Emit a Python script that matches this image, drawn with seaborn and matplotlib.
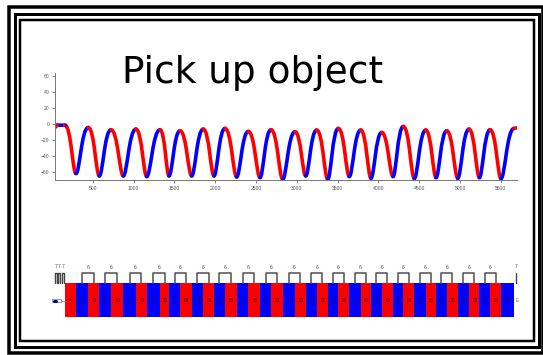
import numpy as np
import pandas as pd
import matplotlib
matplotlib.use("Agg")
import matplotlib.pyplot as plt
from matplotlib.patches import Rectangle, PathPatch
from matplotlib.path import Path
import seaborn as sns

# turning points of the joint angle trace (x in samples, y in degrees)
turn_x = [159, 294, 445, 580, 723, 874, 1029, 1161, 1324, 1434, 1569, 1712, 1854, 1985,
          2120, 2263, 2406, 2549, 2684, 2827, 2978, 3109, 3244, 3379, 3509, 3643, 3783,
          3909, 4040, 4179, 4305, 4440, 4580, 4706, 4837, 4972, 5110, 5237, 5368, 5502, 5662]
trough_y = [-62.5, -65.5, -65.5, -66.3, -65.5, -65.5, -65.5, -66.8, -67.6, -69.7,
            -65.5, -69.7, -66.3, -68.4, -66.3, -68.9, -67.6, -68.4, -67.6, -68.9]
peak_y = [-4.4, -7.3, -6.5, -7.3, -8.6, -6.5, -5.6, -9.4, -7.3, -9.8,
          -7.7, -5.6, -7.7, -10.7, -3.1, -7.7, -8.6, -6.5, -7.3, -5.6]
start_x = [40, 60, 159]
start_y = [-4.0, -1.5, -1.5]
end_x = [5662, 5698]
end_y = [-5.6, -4.8]

# segment labels for the lower strip
seg_labels = ["A"] + ["D", "B"] * 19 + ["D"]
pair_label = "6"
small_x = [[40, 58], [76, 100], [118, 145]]   # short "7" brackets at the start
small_label = "7"
last_mark_x = 5683

W, H = 543, 355
RED, BLUE = "#ff0000", "#0000ff"


def box(l, t, r, b):
    return [l / W, 1 - b / H, (r - l) / W, (b - t) / H]


sns.set_style("ticks")
plt.rcParams["font.family"] = ["Liberation Sans", "DejaVu Sans"]

fig = plt.figure(figsize=(W / 100, H / 100), dpi=100)

# triple frame around the slide
for l, t, r, b, lw in [(8.5, 6.5, 542.5, 353, 3.5), (14.5, 13.5, 538.5, 346.5, 3.0),
                       (19.5, 19.5, 533.5, 341, 2.5)]:
    fig.add_artist(Rectangle((l / W, 1 - b / H), (r - l) / W, (b - t) / H,
                             transform=fig.transFigure, fill=False, ec="black",
                             lw=lw * 0.72))

fig.text(252.5 / W, 1 - 83 / H, "Pick up object", fontsize=27, family="DejaVu Sans",
         color="black", ha="center", va="baseline")

# ---- upper trace
ax = fig.add_axes(box(55, 73, 517, 180))
turn_y = [start_y[-1]]
for i in range(len(trough_y)):
    turn_y.append(trough_y[i])
    turn_y.append(peak_y[i])

sns.lineplot(x=start_x, y=start_y, color=BLUE, lw=2.6, ax=ax)
ax.plot(start_x, start_y, color=RED, lw=2.6, dashes=(1.2, 1.2))
for i in range(len(turn_x) - 1):
    x0, x1 = turn_x[i], turn_x[i + 1]
    y0, y1 = turn_y[i], turn_y[i + 1]
    down = y1 < y0
    # rounder at the top, sharper at the bottom
    d0 = (0.55 if down else 0.3) * (x1 - x0)
    d1 = (0.3 if down else 0.55) * (x1 - x0)
    path = Path([(x0, y0), (x0 + d0, y0), (x1 - d1, y1), (x1, y1)],
                [Path.MOVETO, Path.CURVE4, Path.CURVE4, Path.CURVE4])
    ax.add_patch(PathPatch(path, fc="none", ec=RED if down else BLUE, lw=2.6,
                           capstyle="round"))
ax.plot(end_x, end_y, color=RED, lw=2.6, solid_capstyle="round")

ax.set_xlim(37, 5698)
ax.set_ylim(-70.7, 64.4)
ax.set_xticks(np.arange(500, 5501, 500))
ax.set_yticks(np.arange(-60, 61, 20))
ax.tick_params(labelsize=3.6, colors="#555555", length=2.5, width=0.5, pad=1.5)
for s in ["left", "bottom"]:
    ax.spines[s].set_color("#777777")
    ax.spines[s].set_linewidth(0.7)
sns.despine(ax=ax)
ax.set_xlabel("")
ax.set_ylabel("")

# ---- lower segment strip
ax2 = fig.add_axes(box(55, 250, 517, 330))
ax2.set_xlim(37, 5698)
ax2.set_ylim(-0.382, 1.97)
ax2.axis("off")

bars = pd.DataFrame({"left": turn_x[:-1], "width": np.diff(turn_x), "label": seg_labels})
bar_cols = [RED if i % 2 == 0 else BLUE for i in range(len(bars))]
ax2.bar(bars["left"], 1.0, width=bars["width"], align="edge", color=bar_cols,
        edgecolor="none", zorder=1)
for i, row in bars.iterrows():
    ax2.text(row["left"] + row["width"] / 2, 0.48, row["label"], fontsize=4.6,
             color="#1a1a1a", ha="center", va="center", zorder=5)

centers = bars["left"] + bars["width"] / 2
for k in range(1, len(bars) - 1, 2):
    xl, xr = centers[k], centers[k + 1]
    ax2.plot([xl, xl, xr, xr], [1.0, 1.3, 1.3, 1.0], color="#505050", lw=1.1)
    ax2.text((xl + xr) / 2, 1.47, pair_label, fontsize=3.6, color="#555555",
             ha="center", va="center")

for xl, xr in small_x:
    ax2.plot([xl, xl, xr, xr], [1.0, 1.3, 1.3, 1.0], color="#444444", lw=1.0,
             clip_on=False)
    ax2.text((xl + xr) / 2, 1.48, small_label, fontsize=3.6, color="#555555",
             ha="center", va="center", clip_on=False)
ax2.plot([last_mark_x, last_mark_x], [1.0, 1.3], color="#444444", lw=1.0, clip_on=False)
ax2.text(last_mark_x, 1.48, small_label, fontsize=3.6, color="#555555", ha="center",
         va="center", clip_on=False)
ax2.text(turn_x[-1] + 25, 0.48, "E", fontsize=3.6, color="#777777", ha="left",
         va="center", clip_on=False)

# little idle marker at the start
ax2.add_patch(Rectangle((5, 0.43), 110, 0.1, fill=False, ec="#8888aa", lw=0.6,
                        clip_on=False))
ax2.plot([25, 55], [0.48, 0.48], color="#000080", lw=2.2, clip_on=False)
ax2.plot([115, 159], [0.48, 0.48], color="#8888aa", lw=0.6, clip_on=False)

fig.savefig("out.png", dpi=100)
